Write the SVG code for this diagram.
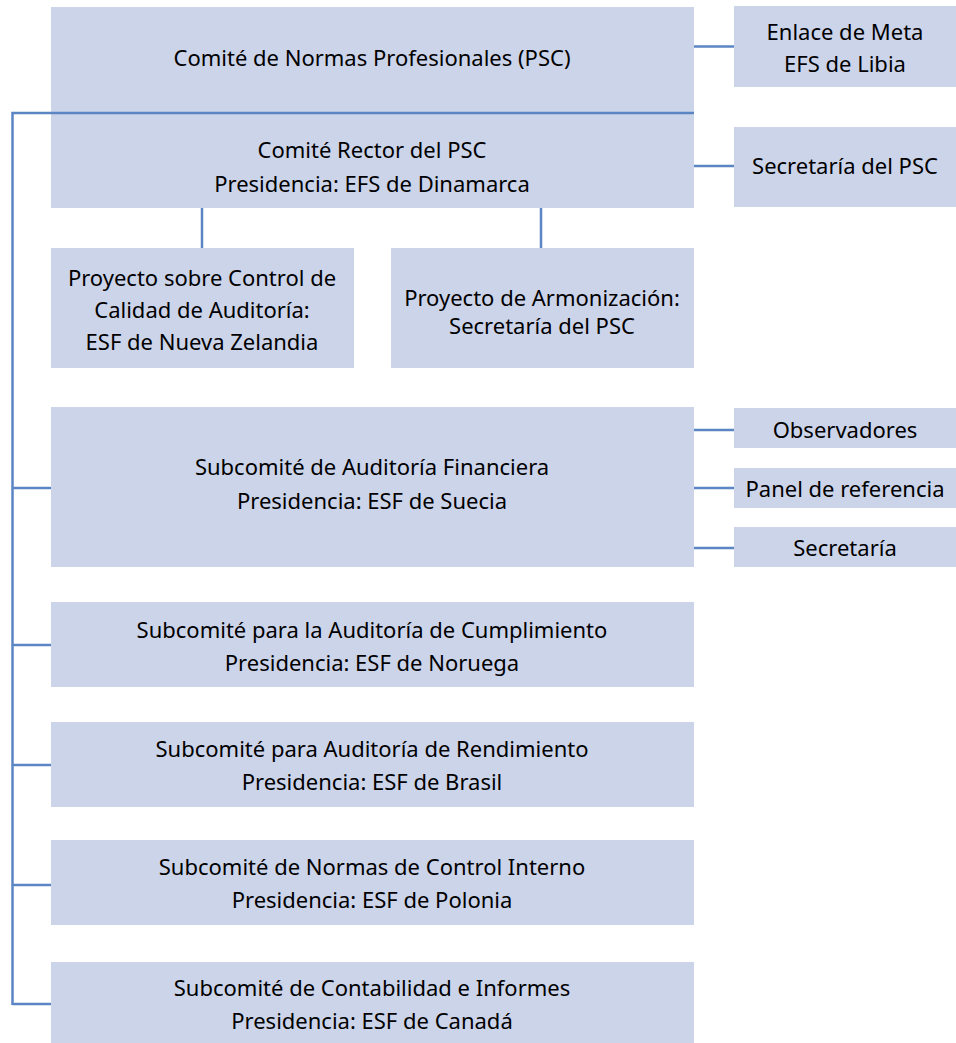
<svg xmlns="http://www.w3.org/2000/svg" width="956" height="1043" viewBox="0 0 956 1043">
<style>
.box{fill:#CCD4EA}
.t{font-family:"Noto Sans","Open Sans",sans-serif;font-size:22px;fill:#000;text-anchor:middle}
.c{stroke:#5B86C3;stroke-width:2.5;fill:none}
</style>
<rect width="956" height="1043" fill="#fff"/>
<g id="n-psc"><rect class="box" x="51" y="7" width="643" height="106"/><text class="t" x="372" y="66">Comité de Normas Profesionales (PSC)</text></g>
<g id="n-enlace"><rect class="box" x="734" y="6" width="222" height="81"/><text class="t" x="845" y="40">Enlace de Meta</text><text class="t" x="845" y="72">EFS de Libia</text></g>
<g id="n-rector"><rect class="box" x="51" y="113" width="643" height="95"/><text class="t" x="372" y="158">Comité Rector del PSC</text><text class="t" x="372" y="192">Presidencia: EFS de Dinamarca</text></g>
<g id="n-secpsc"><rect class="box" x="734" y="127" width="222" height="80"/><text class="t" x="845" y="174">Secretaría del PSC</text></g>
<g id="n-calidad"><rect class="box" x="51" y="248" width="303" height="120"/><text class="t" x="202" y="286">Proyecto sobre Control de</text><text class="t" x="202" y="318">Calidad de Auditoría:</text><text class="t" x="202" y="350">ESF de Nueva Zelandia</text></g>
<g id="n-armon"><rect class="box" x="391" y="248" width="303" height="120"/><text class="t" x="542" y="306">Proyecto de Armonización:</text><text class="t" x="542" y="334">Secretaría del PSC</text></g>
<g id="n-financiera"><rect class="box" x="51" y="407" width="643" height="160"/><text class="t" x="372" y="475">Subcomité de Auditoría Financiera</text><text class="t" x="372" y="509">Presidencia: ESF de Suecia</text></g>
<g id="n-obs"><rect class="box" x="734" y="408" width="222" height="40"/><text class="t" x="845" y="438">Observadores</text></g>
<g id="n-panel"><rect class="box" x="734" y="468" width="222" height="40"/><text class="t" x="845" y="497">Panel de referencia</text></g>
<g id="n-secretaria"><rect class="box" x="734" y="527" width="222" height="40"/><text class="t" x="845" y="556">Secretaría</text></g>
<g id="n-cumpl"><rect class="box" x="51" y="602" width="643" height="85"/><text class="t" x="372" y="638">Subcomité para la Auditoría de Cumplimiento</text><text class="t" x="372" y="671">Presidencia: ESF de Noruega</text></g>
<g id="n-rend"><rect class="box" x="51" y="722" width="643" height="85"/><text class="t" x="372" y="757">Subcomité para Auditoría de Rendimiento</text><text class="t" x="372" y="790">Presidencia: ESF de Brasil</text></g>
<g id="n-control"><rect class="box" x="51" y="840" width="643" height="85"/><text class="t" x="372" y="875">Subcomité de Normas de Control Interno</text><text class="t" x="372" y="908">Presidencia: ESF de Polonia</text></g>
<g id="n-contab"><rect class="box" x="51" y="962" width="643" height="81"/><text class="t" x="372" y="996">Subcomité de Contabilidad e Informes</text><text class="t" x="372" y="1029">Presidencia: ESF de Canadá</text></g>
<g id="connectors">
<path class="c" d="M12.5 1005 V113 H694"/>
<path class="c" d="M694 46.5 H734"/>
<path class="c" d="M694 166 H734"/>
<path class="c" d="M202 208 V248"/>
<path class="c" d="M541 208 V248"/>
<path class="c" d="M694 430 H734"/>
<path class="c" d="M694 488 H734"/>
<path class="c" d="M694 548 H734"/>
<path class="c" d="M12.5 488 H51"/>
<path class="c" d="M12.5 645 H51"/>
<path class="c" d="M12.5 765 H51"/>
<path class="c" d="M12.5 885 H51"/>
<path class="c" d="M12.5 1004 H51"/>
</g>
</svg>
